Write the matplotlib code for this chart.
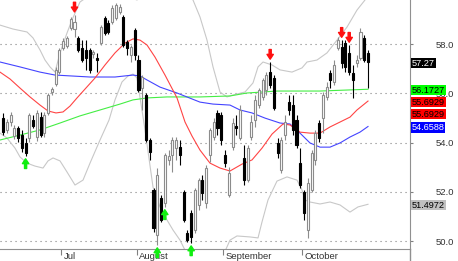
import matplotlib
matplotlib.use("Agg")
import matplotlib.pyplot as plt
import numpy as np
from matplotlib.transforms import blended_transform_factory

plt.rcParams['font.family'] = ['Liberation Sans', 'DejaVu Sans']

# daily candles, mid June to late October
opens = [55.00, 54.52, 54.84, 54.27, 54.60, 54.31, 53.99, 54.19, 54.92, 54.23,
         55.04, 54.39, 55.21, 56.06, 56.39, 56.87, 57.85, 57.93, 58.66, 58.62,
         58.26, 57.85, 57.77, 57.77, 57.61, 57.44, 58.05, 59.07, 58.87, 58.91,
         59.07, 59.31, 59.11, 58.09, 57.57, 58.58, 57.36, 56.22, 55.94, 54.11,
         52.08, 50.25, 51.75, 51.55, 53.30, 53.50, 53.78, 53.82, 52.00, 50.33,
         51.14, 50.45, 51.47, 52.48, 51.55, 53.50, 54.23, 55.21, 55.13, 53.50,
         51.87, 53.82, 54.68, 54.19, 53.38, 52.48, 54.23, 54.92, 55.53, 55.86,
         56.14, 56.87, 56.63, 53.99, 52.89, 54.31, 55.65, 55.53, 54.92, 53.17,
         52.00, 50.45, 52.08, 53.30, 54.80, 55.00, 55.86, 56.83, 56.47, 57.85,
         57.89, 58.05, 57.65, 56.83, 57.24, 57.44, 58.26, 57.65]
highs = [55.21, 54.96, 55.25, 54.72, 54.68, 54.52, 54.19, 55.21, 55.13, 55.33,
         55.25, 55.25, 56.02, 56.26, 57.08, 57.85, 58.26, 58.34, 59.10, 59.20,
         58.34, 58.17, 58.17, 57.85, 57.77, 57.65, 58.78, 59.15, 58.99, 59.60,
         59.68, 59.64, 59.19, 58.17, 57.97, 58.66, 57.57, 56.75, 56.02, 54.19,
         52.16, 52.97, 51.87, 53.58, 53.70, 54.23, 54.23, 54.11, 52.08, 50.45,
         51.26, 52.16, 52.57, 52.69, 53.09, 54.60, 55.00, 55.33, 55.25, 53.70,
         53.01, 55.00, 55.13, 55.53, 53.91, 53.91, 55.13, 55.94, 56.22, 56.63,
         56.87, 57.28, 56.75, 54.19, 54.23, 55.13, 55.94, 55.94, 55.13, 53.78,
         52.08, 52.57, 53.70, 54.52, 54.92, 56.06, 56.47, 56.96, 57.36, 58.30,
         58.17, 58.17, 57.97, 57.16, 57.57, 58.66, 58.38, 57.77]
lows = [54.31, 54.39, 54.68, 54.15, 54.03, 53.62, 53.46, 54.03, 54.60, 54.07,
        54.23, 54.23, 55.13, 55.94, 56.30, 56.79, 57.77, 57.85, 58.58, 58.30,
        57.69, 57.28, 56.96, 56.83, 57.44, 56.87, 57.97, 58.38, 58.42, 58.83,
        58.99, 59.23, 57.89, 57.57, 57.28, 57.36, 56.06, 55.33, 54.03, 53.30,
        50.37, 49.84, 50.77, 51.39, 53.09, 52.81, 53.30, 53.09, 50.77, 49.96,
        49.92, 50.33, 51.26, 51.67, 51.35, 53.22, 54.11, 54.31, 53.91, 53.01,
        51.79, 53.70, 54.31, 54.11, 52.28, 52.40, 54.11, 54.64, 55.41, 55.74,
        55.94, 56.22, 55.33, 53.38, 52.77, 54.11, 55.13, 54.31, 53.78, 52.16,
        50.86, 50.13, 52.00, 53.09, 54.03, 54.39, 55.74, 56.22, 56.34, 57.77,
        57.04, 56.87, 56.75, 55.82, 57.08, 57.36, 57.28, 56.22]
closes = [54.43, 54.84, 55.13, 54.60, 54.19, 53.78, 53.58, 55.13, 54.68, 55.21,
          54.31, 55.13, 55.94, 56.18, 56.96, 57.77, 58.13, 58.26, 59.03, 58.91,
          57.77, 57.36, 57.44, 56.96, 57.69, 57.36, 58.70, 58.46, 58.50, 59.48,
          59.60, 59.52, 57.97, 57.85, 57.89, 57.57, 56.14, 56.67, 54.11, 53.62,
          50.53, 52.69, 50.86, 53.50, 53.46, 54.11, 54.11, 53.50, 50.86, 50.04,
          50.17, 52.08, 52.48, 51.95, 52.97, 54.52, 54.84, 54.60, 54.11, 53.17,
          52.77, 54.80, 54.60, 55.33, 52.48, 53.78, 54.84, 55.74, 56.14, 56.55,
          56.75, 56.34, 55.41, 53.58, 54.11, 54.84, 55.33, 54.52, 53.91, 52.28,
          51.14, 52.36, 53.58, 54.39, 54.19, 55.94, 56.26, 56.55, 57.16, 58.17,
          57.24, 57.08, 56.87, 56.55, 57.36, 58.50, 57.36, 57.27]

month_ticks = [15.5, 35.5, 58.5, 79.5]
month_labels = ['Jul', 'August', 'September', 'October']

# indicator lines, read as (candle index, price) knots
mid_idx = [-0.8, 1.86, 4.52, 7.18, 9.83, 11.96, 14.08, 15.95, 17.81, 19.67, 21.79, 24.45,
           27.11, 29.76, 32.42, 34.55, 36.41, 38.27, 40.39, 43.05, 46.24, 48.37, 50.23,
           52.35, 55.01, 57.67, 60.32, 63.51, 66.17, 68.83, 71.49, 74.41, 76.27, 78.93,
           81.58, 84.24, 86.9, 89.56, 92.21, 94.07, 97]
mid_val = [56.87, 56.59, 56.22, 55.86, 55.53, 55.29, 55.21, 55.25, 55.49, 55.82, 56.18, 56.63,
           57.16, 57.65, 58.05, 58.22, 58.17, 57.97, 57.48, 56.75, 55.82, 54.84, 54.27,
           53.70, 53.17, 52.97, 52.85, 53.13, 53.30, 53.78, 54.35, 54.76, 54.72, 54.43,
           54.39, 54.39, 54.64, 54.84, 55.04, 55.33, 55.6929]

ma50_idx = [-0.8, 4.52, 9.83, 13.82, 23.12, 29.76, 34.55, 36.41, 38.27, 41.72, 46.24, 52.35,
            55.81, 60.32, 62.98, 66.17, 69.63, 73.61, 76.27, 78.93, 81.58, 84.24, 86.9,
            89.56, 92.21, 94.87, 97]
ma50_val = [57.28, 57.08, 56.87, 56.75, 56.67, 56.67, 56.75, 56.71, 56.55, 56.26, 56.02, 55.65,
            55.57, 55.53, 55.33, 55.21, 55.00, 54.80, 54.76, 54.39, 53.99, 53.82, 53.82,
            53.99, 54.23, 54.43, 54.6588]

ma200_idx = [-0.8, 4.52, 9.83, 15.15, 20.46, 25.78, 31.09, 34.55, 38.27, 43.58, 52.35, 60.32,
             64.84, 72.81, 84.24, 97]
ma200_val = [54.11, 54.31, 54.52, 54.80, 55.09, 55.33, 55.57, 55.74, 55.82, 55.86, 55.86, 55.90,
             56.02, 56.10, 56.10, 56.1727]

upper_idx = [-0.8, 2.66, 6.38, 7.97, 9.83, 11.16, 12.49, 13.82, 15.15, 17.01, 18.34, 20.46,
             23.12, 25.78, 29.76, 33.75, 35.61, 39.06, 44.38, 48.37, 50.49, 52.35, 54.21,
             55.81, 57.67, 59.53, 61.12, 64.31, 66.44, 67.77, 69.1, 71.49, 73.61, 76.8,
             79.46, 80.79, 83.44, 86.1, 88.76, 91.42, 94.07, 96.2, 97]
upper_val = [58.78, 58.62, 58.50, 58.26, 57.77, 57.36, 57.08, 56.87, 57.65, 58.46, 58.99, 59.72,
             60.00, 59.88, 60.41, 59.92, 59.80, 60.21, 60.82, 60.21, 59.80, 59.11, 58.17,
             57.08, 56.06, 55.86, 55.94, 56.06, 56.43, 57.08, 57.28, 57.16, 56.96, 56.87,
             57.04, 57.28, 57.36, 57.65, 58.17, 58.70, 59.39, 59.80, 60.04]

lower_idx = [-0.8, 1.06, 3.19, 4.52, 6.38, 8.5, 10.63, 11.96, 13.29, 15.15, 17.01, 19.13,
             21.26, 23.12, 25.78, 28.17, 29.76, 31.62, 33.22, 34.55, 35.61, 37.74, 39.86,
             41.72, 43.58, 45.18, 47.04, 48.37, 51.02, 55.01, 58.2, 60.32, 62.18, 65.64,
             67.77, 68.83, 70.42, 72.81, 75.47, 78.13, 79.46, 80.26, 81.58, 84.24, 86.9,
             89.56, 92.21, 94.34, 97]
lower_val = [54.39, 54.19, 53.78, 53.42, 53.17, 53.05, 52.97, 53.26, 53.38, 53.26, 52.81, 52.28,
             52.48, 53.17, 54.11, 54.92, 55.74, 56.47, 56.71, 56.79, 56.63, 54.52, 52.20,
             51.39, 50.86, 50.45, 50.04, 49.63, 49.14, 48.98, 49.31, 50.04, 50.21, 50.17,
             50.13, 50.78, 51.67, 52.44, 52.61, 52.48, 52.08, 51.67, 51.59, 51.51, 51.59,
             51.47, 51.18, 51.39, 51.4972]

up_arrows = [6, 41, 43, 50]
down_arrows = [19, 71, 90, 92]

# right-hand value tags: value, decimals, background, text colour
tag_values = [57.27, 56.1727, 55.6929, 55.6929, 54.6588, 51.4972]
tag_decimals = [2, 4, 4, 4, 4, 4]
tag_bg = ['black', '#00ff00', '#ff0000', '#ff0000', '#0000ff', '#c0c0c0']
tag_fg = ['white', 'black', 'black', 'black', 'white', 'black']

W, H = 458, 261
fig = plt.figure(figsize=(W / 100, H / 100), dpi=100)
ax = fig.add_axes([0, 12 / H, 410 / W, 249 / H])
ax.set_xlim(-0.8, 108.16)
ax.set_ylim(49.68, 59.80)

# grid
ax.set_yticks([50, 52, 54, 56, 58])
ax.yaxis.grid(True, color='#808080', linestyle=(0, (1, 3.5)), lw=0.8)
ax.set_axisbelow(True)

# indicators
ax.plot(upper_idx, upper_val, color='#c8c8c8', lw=0.8, zorder=2)
ax.plot(lower_idx, lower_val, color='#c8c8c8', lw=0.8, zorder=2)
ax.plot(ma200_idx, ma200_val, color='#44ee44', lw=0.8, zorder=2)
ax.plot(ma50_idx, ma50_val, color='#4444ff', lw=0.8, zorder=2)
ax.plot(mid_idx, mid_val, color='#ff4444', lw=0.8, zorder=2)

# candles
o, h, l, c = map(np.array, (opens, highs, lows, closes))
idx = np.arange(len(c))
up = c >= o
body_lo = np.minimum(o, c)
body_h = np.maximum(np.abs(c - o), 0.04)
ax.vlines(idx[up], l[up], h[up], color='#8c8c8c', lw=0.8, zorder=3)
ax.vlines(idx[~up], l[~up], h[~up], color='black', lw=0.8, zorder=3)
ax.bar(idx[up], body_h[up], bottom=body_lo[up], width=0.55, color='white',
       edgecolor='#8c8c8c', lw=0.8, zorder=4)
ax.bar(idx[~up], body_h[~up], bottom=body_lo[~up], width=0.55, color='black',
       edgecolor='black', lw=0.8, zorder=4)

# fractal arrows
arrow_style = 'simple,head_length=0.5,head_width=0.65,tail_width=0.22'
for i in down_arrows:
    ax.annotate('', xy=(i, highs[i]), xytext=(0, 9), textcoords='offset points',
                arrowprops=dict(arrowstyle=arrow_style, color='#ff1010', mutation_scale=7,
                                shrinkA=0, shrinkB=2), annotation_clip=False, zorder=6)
for i in up_arrows:
    ax.annotate('', xy=(i, lows[i]), xytext=(0, -9), textcoords='offset points',
                arrowprops=dict(arrowstyle=arrow_style, color='#10ee10', mutation_scale=7,
                                shrinkA=0, shrinkB=2), annotation_clip=False, zorder=6)

# axes frame
for s in ['top', 'left']:
    ax.spines[s].set_visible(False)
ax.spines['bottom'].set_color('#909090')
ax.spines['right'].set_color('#909090')
ax.plot([1, 1], [0, -12 / 249], transform=ax.transAxes, color='#909090', lw=1, clip_on=False)

# x axis: month ticks with labels just to the right
ax.set_xticks(month_ticks)
ax.set_xticklabels([])
ax.tick_params(axis='x', length=4.5, color='#808080', direction='out')
for t, lab in zip(month_ticks, month_labels):
    ax.annotate(lab, xy=(t, 0), xycoords=('data', 'axes fraction'), xytext=(1.5, -5.3),
                textcoords='offset points', ha='left', va='center', fontsize=6.8, color='#333333')

# y axis on the right
ax.yaxis.tick_right()
ax.set_yticklabels(['%.1f' % v for v in [50, 52, 54, 56, 58]])
ax.tick_params(axis='y', length=2.5, color='#808080', pad=29, labelsize=6.8, labelcolor='#333333')
for t in ax.get_yticklabels():
    t.set_horizontalalignment('right')

# value tags, pushed down so they do not overlap
tr = blended_transform_factory(ax.transAxes, ax.transData)
gap = 12 / 249 * (59.80 - 49.68)
order = sorted(range(len(tag_values)), key=lambda k: -tag_values[k])
prev = None
for k in order:
    pos = tag_values[k] if prev is None else min(tag_values[k], prev - gap)
    prev = pos
    ax.text(1 + 2 / 410, pos, '%.*f' % (tag_decimals[k], tag_values[k]), transform=tr,
            ha='left', va='center_baseline', fontsize=6.6, color=tag_fg[k], clip_on=False,
            zorder=10, bbox=dict(boxstyle='square,pad=0.06', fc=tag_bg[k], ec='none'))

fig.savefig('out.png', dpi=100, facecolor='white')
